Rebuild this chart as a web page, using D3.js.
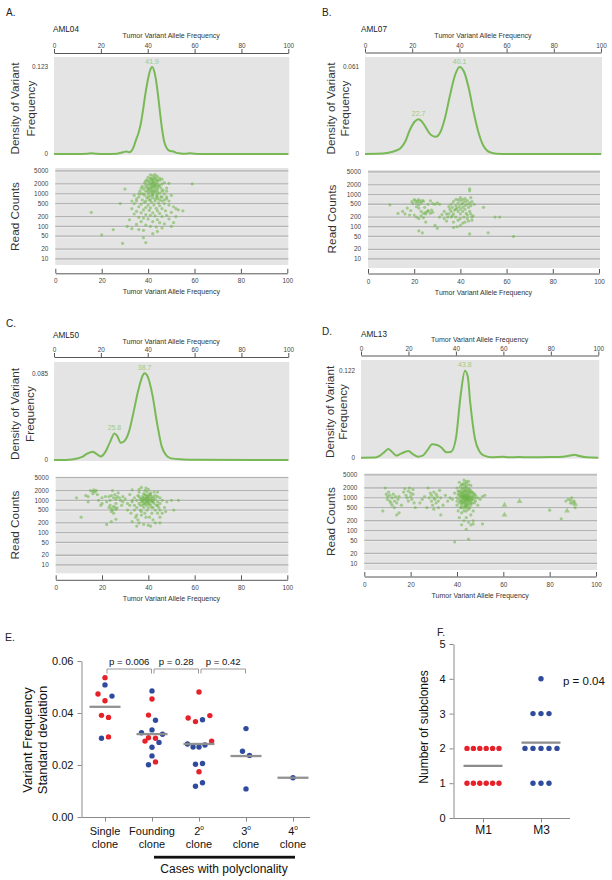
<!DOCTYPE html>
<html><head><meta charset="utf-8">
<script src="https://cdn.jsdelivr.net/npm/d3@7"></script>
<style>
body{margin:0;background:#fff}
svg{display:block}
text{font-family:"Liberation Sans",Arial,Helvetica,sans-serif}
</style>
</head><body>
<svg id="chart" width="612" height="880"></svg>
<script>
// ---------------- DATA ----------------
const vafTicks = [0, 20, 40, 60, 80, 100];
const readTicks = [10, 20, 50, 100, 200, 500, 1000, 2000, 5000];

// AML04
const aml04Density = [[0,0],[10,0],[14,0.0003],[16,0.001],[18,0.0003],[22,0],[27,0.0005],[29,0.002],[30,0.003],[31,0.0035],[32,0.0025],[33,0.004],[34,0.010],[35,0.020],[36,0.029],[37,0.042],[38,0.062],[39,0.085],[40,0.104],[41,0.118],[41.9,0.123],[43,0.114],[44,0.094],[45,0.066],[46,0.038],[47,0.018],[48,0.009],[49,0.005],[50,0.004],[51,0.0035],[52,0.002],[54,0.0008],[56,0.0004],[58,0.001],[60,0.0004],[63,0],[100,0]];
const aml04Peaks = [41.9];
const aml04Max = 0.123;
const aml04Reads = [[41,3800],[42,3600],[43,3900],[44,3400],[40,3200],[42.5,3000],[41.5,2900],[43.5,2800],[39.5,2700],[45,2600],[40.5,2500],[42,2400],[44,2300],[38.5,2200],[41,2100],[43,2000],[46,2000],[39,1900],[40,1800],[42,1800],[44.5,1700],[37.5,1700],[41.5,1600],[43,1500],[45.5,1500],[38,1400],[40,1400],[42,1300],[44,1300],[46.5,1300],[36.5,1200],[39,1200],[41,1100],[43,1100],[45,1050],[37,1000],[40,1000],[42,950],[44,950],[47,1000],[38.5,900],[41,850],[43.5,850],[45.5,800],[36,800],[39.5,750],[42,750],[44,700],[48,700],[37.5,650],[40.5,650],[43,600],[46,600],[35,600],[38.5,550],[41.5,550],[44.5,520],[47,500],[34,500],[37,480],[40,450],[42.5,450],[45,430],[49,450],[36,400],[39,380],[41,370],[43.5,360],[46,350],[33,350],[38,320],[40.5,310],[44,300],[47.5,300],[35,290],[37,260],[42,260],[45,250],[50,270],[34,240],[39,230],[41,220],[43,210],[46,200],[48,220],[36,190],[38,180],[40,170],[44,160],[49,170],[32,160],[37,140],[42,140],[45,130],[47,120],[35,115],[39,110],[41,100],[43.5,95],[46,90],[51,130],[50,100],[31,100],[33,85],[36,80],[38,75],[44,70],[42,60],[38,45],[39,32],[29,30],[25,80],[20,55],[15.5,270],[28,500],[30,1400],[59,2000],[53,320],[55,300],[52,200],[49,2100],[48,1500],[47,2200],[46,2800],[45,3000],[39,2500],[37,1500],[36,1000],[35,700],[34,900],[33,600],[48,800],[49,600],[51,400],[52,350],[50,900],[48,1200],[44,1900],[42,2200],[40,2300],[41,3000],[43,3300],[44,2600],[39,1600],[41,1500],[43,1700],[45,1800],[40,1200],[42,1600],[44,1100],[46,1200],[38,1000],[40,800],[42,900],[44,800],[46,800],[39,600],[41,650],[43,700],[45,650],[47,650],[41,1900],[42,2000],[43,1800],[41,1300],[42,1200],[43,1250],[40,1500],[44,1500],[42,1050],[41.5,2600],[42.5,2700],[43,2300]];

// AML07
const aml07Density = [[0,0],[5,0.0001],[10,0.0009],[13,0.0023],[15,0.004],[17,0.0086],[19,0.0168],[21,0.0226],[22.7,0.0244],[24,0.023],[26,0.018],[28,0.0133],[30,0.0121],[32,0.0156],[34,0.026],[36,0.041],[38,0.0545],[40.1,0.061],[42,0.0575],[44,0.0459],[46,0.0296],[48,0.0156],[50,0.0063],[52,0.002],[54,0.0007],[56,0.0002],[60,0],[100,0]];
const aml07Peaks = [22.7, 40.1];
const aml07Max = 0.061;
const aml07Reads = [[9.5,480],[13,260],[15,300],[16,250],[17,380],[18,230],[18.5,320],[19,600],[19.5,520],[20,700],[20.5,650],[21,560],[21.5,620],[22,700],[22,480],[22.5,600],[23,550],[23.5,650],[24,620],[21,420],[22,380],[23,300],[24,260],[25,280],[26,320],[20,230],[21,200],[22,180],[23,220],[24,190],[25,250],[26,300],[27,260],[27.5,330],[28,280],[24.5,400],[26,500],[28,520],[29,500],[30,550],[31,500],[27,640],[25,140],[22,75],[23.5,65],[29,110],[30,90],[31,200],[32,240],[33,300],[33,180],[34,150],[35,250],[35,420],[35.5,350],[36,300],[36,500],[36.5,400],[37,250],[37,600],[37.5,330],[38,450],[38,200],[38,700],[38.5,380],[39,300],[39,550],[39,160],[39.5,420],[40,350],[40,650],[40,250],[40.5,500],[41,400],[41,300],[41,700],[41.5,200],[42,450],[42,600],[42,350],[42.5,260],[43,500],[43,650],[43,180],[43.5,400],[44,550],[44,300],[44,1500],[44,1300],[44.5,800],[44.5,450],[45,200],[45,160],[45,600],[43.5,150],[42,140],[41,130],[40,110],[38.5,100],[37,95],[36,200],[34,250],[44,60],[46,500],[50,400],[52,65],[55,200],[57,200],[63,50],[37,140],[39,700],[40,800],[41,550],[42,750],[38,350],[36.5,220],[40,180],[43,230],[44.5,250],[45.5,220],[34.5,200]];

// AML50
const aml50Density = [[0,0],[5,0.0001],[10,0.0015],[12,0.003],[14,0.0059],[16.5,0.0082],[18,0.0062],[20,0.0035],[22,0.0082],[24,0.018],[25.8,0.026],[27,0.0235],[28.5,0.017],[30,0.0185],[32,0.0278],[34,0.0474],[36,0.0687],[38.7,0.085],[40,0.0817],[42,0.0638],[44,0.036],[46,0.0131],[48,0.0043],[50,0.0016],[55,0.0006],[60,0.0002],[100,0]];
const aml50Peaks = [25.8, 38.7];
const aml50Max = 0.085;
const aml50Reads = [[9,1200],[11,300],[13,1400],[14,1300],[15,2000],[16,1900],[16.5,2100],[17,1800],[17.5,2000],[18,1500],[16,1600],[18.5,1000],[14,900],[20,800],[19.5,700],[22,180],[23,600],[23.5,700],[24,550],[24.5,500],[25,650],[25.5,600],[26,520],[26.5,580],[24,450],[25,400],[23,1300],[24,1400],[25,1200],[25.5,1500],[26,1100],[26.5,1300],[27,1700],[27.5,1200],[28,1000],[23.5,1000],[24.5,2000],[26,800],[28.5,700],[29,900],[30,1100],[24,220],[26,260],[31,800],[31,500],[32,1500],[32.5,400],[33,900],[33,2100],[34,1200],[34,700],[34.5,300],[35,1000],[35,600],[35.5,1400],[35.5,250],[36,800],[36,1800],[36.5,500],[36.5,1100],[37,900],[37,2500],[37,350],[37.5,1300],[37.5,700],[38,1000],[38,600],[38,1600],[38.5,800],[38.5,400],[38.5,2000],[39,1100],[39,700],[39,1400],[39.5,900],[39.5,500],[39.5,1800],[40,1000],[40,1200],[40,600],[40,2200],[40.5,800],[40.5,300],[41,1100],[41,1500],[41,700],[41.5,900],[41.5,400],[42,1000],[42,1300],[42,600],[42.5,800],[42.5,1800],[43,1100],[43,500],[43.5,700],[44,900],[44,1300],[44,400],[44.5,600],[45,800],[45,200],[46,1000],[47,600],[47.5,450],[48,900],[50,1000],[53,1000],[51,500],[36,200],[38,180],[33,220],[40,170],[42,250],[39,300],[37,450],[35,350],[34,500],[33,1000],[32,700],[36,1300],[38,1200],[40,1400],[42,1150],[43,1400],[41,1700],[39,2400],[36,2200],[44,1800],[45,1200],[44,700],[45,500],[46,400],[29,1300],[21.5,1300],[22,900],[20,1200],[43,200],[45,300],[41,160],[35,160],[38,1100],[39,1000],[40,900],[41,1000],[39,1200],[38,800],[40,1100],[41,1300],[37,1100],[42,900],[39.5,1300],[38.5,1500],[40.5,1500],[36.5,700],[41.5,600],[37.5,950],[40,750],[39,850]];

// AML13
const aml13Density = [[0,0],[6,0.0002],[8,0.0028],[10,0.0084],[11.5,0.0122],[13,0.0084],[15,0.0028],[17,0.006],[20,0.0093],[22,0.0047],[24,0.0014],[26,0.0028],[28,0.0107],[30,0.0187],[32,0.0178],[34,0.014],[36,0.0075],[38,0.0084],[40,0.027],[42,0.0879],[43.8,0.122],[45,0.1136],[46,0.0785],[48,0.027],[50,0.0084],[52,0.0028],[55,0.0005],[60,0.0014],[62,0.0007],[67,0.0009],[70,0.0005],[80,0.0009],[85,0.0014],[88,0.003],[90,0.0042],[92,0.0023],[95,0.0005],[100,0]];
const aml13Peaks = [43.8];
const aml13Max = 0.122;
const aml13Reads = [[8,400],[9,2000],[9.5,1300],[10,1100],[10,900],[10.5,1500],[11,800],[11,1200],[11.5,700],[12,1000],[12,600],[12.5,1300],[13,800],[13,500],[13.5,1100],[14,700],[14,300],[14.5,900],[15,350],[15,1100],[16,600],[17,1500],[17.5,1900],[18,1200],[18.5,1000],[19,1600],[19,800],[19.5,2000],[20,1100],[20,1400],[20.5,900],[21,1800],[21,1300],[22,500],[21.5,700],[24,700],[25,900],[26,1100],[27,500],[27.5,2000],[28,1000],[28.5,1400],[29,800],[29,1200],[29.5,600],[30,1000],[30,1500],[30,450],[30.5,900],[31,1300],[31,700],[31.5,1100],[32,800],[32,500],[32.5,1700],[33,1000],[33,300],[34,600],[35,1200],[36,800],[37,1000],[38,900],[39,1400],[39,45],[40,600],[40,1000],[40,2000],[40.5,400],[40.5,1300],[41,700],[41,900],[41,1600],[41,3000],[41.5,500],[41.5,1100],[41.5,2200],[42,600],[42,800],[42,1000],[42,1300],[42,1800],[42,350],[42.5,700],[42.5,900],[42.5,1200],[42.5,2500],[43,500],[43,800],[43,1000],[43,1100],[43,1500],[43,2000],[43,3500],[43.5,600],[43.5,750],[43.5,900],[43.5,1300],[43.5,1700],[44,400],[44,700],[44,850],[44,1000],[44,1200],[44,1400],[44,2200],[44,2800],[44.5,550],[44.5,800],[44.5,950],[44.5,1100],[44.5,1600],[45,650],[45,900],[45,1000],[45,1300],[45,1900],[45,3200],[45.5,500],[45.5,750],[45.5,1100],[45.5,1500],[46,600],[46,850],[46,1000],[46,1300],[46,2400],[46.5,700],[46.5,1100],[47,900],[47,1400],[47,400],[48,800],[48,1200],[49,600],[49,1000],[50,900],[51,1100],[52,1200],[44,250],[43,200],[45,180],[46,150],[44,110],[45,55],[47,160],[51,160],[42,150],[41,250],[46,300],[47,200],[80,420],[85,230],[87,800],[88,900],[89,700],[89.5,1000],[90.5,800],[91,500],[89,850],[42,1100],[42.5,1050],[43,950],[43.5,1000],[44,1050],[44.5,1000],[45,1100],[43,1200],[44,900],[42.5,1400],[43.5,1150],[44.5,1250],[45.5,900],[43,700],[44,600],[45,800],[42,700],[43,1600],[44,1700],[45,1500],[44,2000],[43.5,2400],[42.5,2000],[45.5,1800],[46,1600],[41.5,1400],[41,1200],[41.5,800],[46.5,900],[47,1100],[46,700],[43,400],[44,500],[45,450],[42,500],[43.5,550],[44.5,650],[42,1500],[46.5,1500],[45,2500],[44,3200],[43,2800],[42,2600],[40.5,1600],[40,800],[47.5,1300],[48,1000],[47.5,700]];
const aml13Triangles = [[60.5,600],[60.5,300],[67,780],[87.5,400],[90,700],[91,650]];

// Panel E: variant frequency standard deviation (c: r=red, b=blue; slot = side-by-side slot)
const eCategories = ["single", "founding", "second", "third", "fourth"];
const eSingle = [[0.0536,"r",0],[0.0508,"b",0],[0.0473,"r",-2],[0.0465,"b",2],[0.0447,"r",0],[0.0391,"r",-1],[0.0383,"r",1],[0.0303,"b",-1],[0.0308,"r",1]];
const eFounding = [[0.0485,"b",0],[0.0454,"r",0],[0.0392,"r",-1],[0.0372,"b",1],[0.0324,"b",-3],[0.0335,"b",0],[0.0318,"b",3],[0.0305,"r",-1],[0.0303,"r",1],[0.0292,"r",-2],[0.0287,"b",2],[0.0268,"b",0],[0.0235,"b",0],[0.0201,"b",-1],[0.0212,"r",1]];
const eSecond = [[0.0481,"r",0],[0.0381,"r",-3.1],[0.0367,"r",-1],[0.0374,"b",1],[0.0390,"r",3.1],[0.0292,"r",3.6],[0.0281,"b",-3.3],[0.0269,"b",-1.7],[0.0269,"b",0],[0.0277,"b",1.7],[0.0203,"b",-1],[0.0206,"b",1],[0.0174,"r",0],[0.0118,"b",-1],[0.0132,"b",1]];
const eThird = [[0.0340,"b",0],[0.0253,"b",-1],[0.0237,"b",1],[0.0108,"b",0]];
const eFourth = [[0.0151,"b",0]];
const eTicks = [0, 0.02, 0.04, 0.06];
const ePvalues = ["p = 0.006", "p = 0.28", "p = 0.42"];

// Panel F: number of subclones
const fGroups = ["M1", "M3"];
const fM1 = [2,2,2,2,2,2,1,1,1,1,1,1];
const fM3 = [4,3,3,3,2,2,2,2,2,1,1,1];
const fTicks = [0,1,2,3,4,5];
const fPvalue = "p = 0.04";

// ---------------- LAYOUT ----------------
const svg = d3.select("#chart");
const GREEN = "#78b956", GREEN_LABEL = "#9ccb84", BG = "#e4e4e4", GRID = "#b3b3b3";
const RED = "#e6212a", BLUE = "#2f4b9d", MEAN = "#8c8c8c";

const panels = [
  {letter:"A.", lx:6, ly:16, name:"AML04", nx:53, ny:32, vx0:54, vx1:288.3, topTitleY:37.5, topAxisY:53,
   dTop:57, dBot:154, dPeak:67, dTitleX:[15,31], sTop:168, sBot:265, y5000:171, y10:259,
   bx0:55.3, bx1:287.3, botAxisY:273.3, rTitleX:15,
   density:aml04Density, peaks:aml04Peaks, max:aml04Max, reads:aml04Reads, tris:[]},
  {letter:"B.", lx:322, ly:16, name:"AML07", nx:361, ny:32, vx0:365, vx1:601, topTitleY:37.5, topAxisY:52.5,
   dTop:57, dBot:154, dPeak:67, dTitleX:[331,345], sTop:170, sBot:268, y5000:172, y10:259,
   bx0:368, bx1:599, botAxisY:273.5, rTitleX:332,
   density:aml07Density, peaks:aml07Peaks, max:aml07Max, reads:aml07Reads, tris:[]},
  {letter:"C.", lx:6, ly:326.5, name:"AML50", nx:53, ny:338, vx0:54, vx1:288.3, topTitleY:344, topAxisY:357,
   dTop:362, dBot:460, dPeak:373.3, dTitleX:[15,30], sTop:476.7, sBot:573.3, y5000:477.7, y10:565,
   bx0:55.7, bx1:287.3, botAxisY:579.8, rTitleX:15,
   density:aml50Density, peaks:aml50Peaks, max:aml50Max, reads:aml50Reads, tris:[]},
  {letter:"D.", lx:322, ly:334.5, name:"AML13", nx:361, ny:336.5, vx0:361, vx1:598.3, topTitleY:341.5, topAxisY:355.5,
   dTop:360, dBot:457.7, dPeak:370.7, dTitleX:[330,343], sTop:473.3, sBot:570, y5000:475, y10:563.3,
   bx0:364.3, bx1:596, botAxisY:576.5, rTitleX:331,
   density:aml13Density, peaks:aml13Peaks, max:aml13Max, reads:aml13Reads, tris:aml13Triangles}
];

const SMALL = 6.4;

panels.forEach((p, i) => {
  const g = svg.append("g");
  g.append("text").attr("x", p.lx).attr("y", p.ly).attr("font-size", 10).attr("fill","#222").text(p.letter);
  g.append("text").attr("x", p.nx).attr("y", p.ny).attr("font-size", 8.2).attr("fill","#222").text(p.name);

  // density
  const xTop = d3.scaleLinear().domain([0,100]).range([p.vx0, p.vx1]);
  const yD = d3.scaleLinear().domain([0, p.max]).range([p.dBot, p.dPeak]);
  g.append("rect").attr("x", p.vx0).attr("y", p.dTop).attr("width", p.vx1 - p.vx0 + 1).attr("height", p.dBot - p.dTop + 1).attr("fill", BG);
  const topAx = g.append("g").attr("transform", `translate(0,${p.topAxisY})`)
    .call(d3.axisTop(xTop).tickValues(vafTicks).tickSize(4).tickSizeOuter(0).tickPadding(0.6));
  topAx.select(".domain").attr("stroke","#555");
  topAx.selectAll(".tick line").attr("stroke","#555");
  topAx.selectAll("text").attr("font-size", SMALL).attr("fill","#444").attr("font-family",null);
  g.append("text").attr("x", (p.vx0+p.vx1)/2).attr("y", p.topTitleY).attr("text-anchor","middle")
    .attr("font-size", 7).attr("fill","#333").text("Tumor Variant Allele Frequency");
  [0, p.max].forEach(v => {
    g.append("text").attr("x", p.vx0 - 6).attr("y", yD(v) + 2.2).attr("text-anchor","end")
      .attr("font-size", SMALL).attr("fill","#444").text(v === 0 ? "0" : String(v));
  });
  const line = d3.line().x(d => xTop(d[0])).y(d => yD(d[1])).curve(d3.curveMonotoneX);
  g.append("path").datum(p.density).attr("d", line).attr("fill","none").attr("stroke", GREEN).attr("stroke-width", 2);
  p.peaks.forEach(pk => {
    const pt = p.density.find(d => d[0] === pk);
    g.append("text").attr("x", xTop(pk)).attr("y", yD(pt[1]) - 3.3).attr("text-anchor","middle")
      .attr("font-size", 7).attr("fill", GREEN_LABEL).text(pk.toFixed(1));
  });
  const dMid = (p.dTop + p.dBot)/2 + 3;
  ["Density of Variant", "Frequency"].forEach((t, k) => {
    g.append("text").attr("transform", `translate(${p.dTitleX[k]},${dMid}) rotate(-90)`)
      .attr("text-anchor","middle").attr("dominant-baseline","central")
      .attr("font-size", 11.8).attr("fill","#333").text(t);
  });

  // scatter
  const xB = d3.scaleLinear().domain([0,100]).range([p.bx0, p.bx1]);
  const yR = d3.scaleLog().domain([10,5000]).range([p.y10, p.y5000]);
  g.append("rect").attr("x", p.bx0).attr("y", p.sTop).attr("width", p.bx1 - p.bx0 + 1).attr("height", p.sBot - p.sTop).attr("fill", BG);
  readTicks.forEach(v => {
    g.append("line").attr("x1", p.bx0).attr("x2", p.bx1 + 1).attr("y1", yR(v)).attr("y2", yR(v))
      .attr("stroke", GRID).attr("stroke-width", 1.3);
    g.append("line").attr("x1", p.bx0).attr("x2", p.bx1 + 1).attr("y1", yR(v)+1.2).attr("y2", yR(v)+1.2)
      .attr("stroke", "#f2f2f2").attr("stroke-width", 0.6);
    g.append("text").attr("x", p.bx0 - 7).attr("y", yR(v) + 2.2).attr("text-anchor","end")
      .attr("font-size", SMALL).attr("fill","#444").text(v);
  });
  const clipId = "clip" + i;
  g.append("clipPath").attr("id", clipId).append("rect")
    .attr("x", p.bx0).attr("y", p.sTop).attr("width", p.bx1 - p.bx0 + 1).attr("height", p.sBot - p.sTop);
  const pts = g.append("g").attr("clip-path", `url(#${clipId})`);
  pts.selectAll("circle").data(p.reads).join("circle")
    .attr("cx", d => xB(d[0])).attr("cy", d => yR(d[1])).attr("r", 1.6)
    .attr("fill", "#6cb446").attr("fill-opacity", 0.55);
  pts.selectAll("path.tri").data(p.tris).join("path").attr("class","tri")
    .attr("transform", d => `translate(${xB(d[0])},${yR(d[1])})`)
    .attr("d", d3.symbol(d3.symbolTriangle, 14)).attr("fill", "#6cb446").attr("fill-opacity", 0.55);
  const botAx = g.append("g").attr("transform", `translate(0,${p.botAxisY})`)
    .call(d3.axisBottom(xB).tickValues(vafTicks).tickSize(-4.5).tickSizeOuter(0).tickPadding(5.6));
  botAx.select(".domain").attr("stroke","#555");
  botAx.selectAll(".tick line").attr("stroke","#555");
  botAx.selectAll("text").attr("font-size", SMALL).attr("fill","#444").attr("font-family",null);
  g.append("text").attr("x", (p.bx0+p.bx1)/2).attr("y", p.botAxisY + 21).attr("text-anchor","middle")
    .attr("font-size", 7).attr("fill","#333").text("Tumor Variant Allele Frequency");
  g.append("text").attr("transform", `translate(${p.rTitleX},${(p.sTop+p.sBot)/2}) rotate(-90)`)
    .attr("text-anchor","middle").attr("dominant-baseline","central")
    .attr("font-size", 11.8).attr("fill","#333").text("Read Counts");
});

// ---------------- PANEL E ----------------
(function(){
  const g = svg.append("g");
  g.append("text").attr("x", 5).attr("y", 641).attr("font-size", 10.5).attr("fill","#222").text("E.");
  const x = d3.scalePoint().domain(eCategories).range([105, 293]);
  const y = d3.scaleLinear().domain([0, 0.06]).range([817, 661]);
  const slotW = 3.5;
  const yAx = g.append("g").attr("transform","translate(81.5,0)")
    .call(d3.axisLeft(y).tickValues(eTicks).tickFormat(d3.format(".2f")).tickSize(4).tickSizeOuter(0).tickPadding(4));
  yAx.select(".domain").attr("stroke","#8a8a8a");
  yAx.selectAll(".tick line").attr("stroke","#8a8a8a");
  yAx.selectAll("text").attr("font-size", 11).attr("fill","#111").attr("font-family",null);
  const xAx = g.append("g").attr("transform","translate(0,817.5)")
    .call(d3.axisBottom(x).tickSize(4).tickSizeOuter(0).tickFormat(() => ""));
  xAx.select(".domain").remove();
  xAx.selectAll(".tick line").attr("stroke","#8a8a8a");
  g.append("line").attr("x1", 81.5).attr("x2", 310).attr("y1", 817.5).attr("y2", 817.5).attr("stroke","#8a8a8a");

  const groups = [eSingle, eFounding, eSecond, eThird, eFourth];
  groups.forEach((arr, k) => {
    const cx = x(eCategories[k]);
    g.append("g").selectAll("circle").data(arr).join("circle")
      .attr("cx", d => cx + d[2]*slotW).attr("cy", d => y(d[0])).attr("r", 2.7)
      .attr("fill", d => d[1] === "r" ? RED : BLUE);
    const m = d3.mean(arr, d => d[0]);
    g.append("line").attr("x1", cx - 15.5).attr("x2", cx + 15.5).attr("y1", y(m)).attr("y2", y(m))
      .attr("stroke", MEAN).attr("stroke-width", 2.3).attr("stroke-opacity", 0.95);
  });

  for (let k = 0; k < 3; k++) {
    const x1 = x(eCategories[k]) + 2, x2 = x(eCategories[k+1]) - 0.5;
    g.append("path").attr("d", `M${x1},673.5V669H${x2}V673.5`).attr("fill","none")
      .attr("stroke","#999").attr("stroke-width",1);
    g.append("text").attr("x", (x1+x2)/2).attr("y", 664.5).attr("text-anchor","middle")
      .attr("font-size", 9.6).attr("fill","#111").text(ePvalues[k]);
  }

  const line1 = ["Single", "Founding", "2", "3", "4"];
  eCategories.forEach((c, k) => {
    const t = g.append("text").attr("x", x(c)).attr("y", 835).attr("text-anchor","middle")
      .attr("font-size", 11).attr("fill","#111");
    t.append("tspan").text(line1[k]);
    if (k >= 2) t.append("tspan").attr("font-size", 6.5).attr("dy", -5).text("o");
    g.append("text").attr("x", x(c)).attr("y", 848).attr("text-anchor","middle")
      .attr("font-size", 11).attr("fill","#111").text("clone");
  });
  g.append("rect").attr("x", x("founding") + 2).attr("y", 855.8).attr("width", x("fourth") - x("founding")).attr("height", 2.8).attr("fill","#111");
  g.append("text").attr("x", 224).attr("y", 872.5).attr("text-anchor","middle")
    .attr("font-size", 12).attr("fill","#111").text("Cases with polyclonality");
  [["Variant Frequency", 27], ["Standard deviation", 42]].forEach(([t, xx]) => {
    g.append("text").attr("transform", `translate(${xx},740) rotate(-90)`)
      .attr("text-anchor","middle").attr("dominant-baseline","central")
      .attr("font-size", 13).attr("fill","#111").text(t);
  });
})();

// ---------------- PANEL F ----------------
(function(){
  const g = svg.append("g");
  g.append("text").attr("x", 437).attr("y", 636).attr("font-size", 10.5).attr("fill","#222").text("F.");
  const x = d3.scalePoint().domain(fGroups).range([483, 541]);
  const y = d3.scaleLinear().domain([0, 5]).range([818, 644]);
  const yAx = g.append("g").attr("transform","translate(453.5,0)")
    .call(d3.axisLeft(y).tickValues(fTicks).tickFormat(d3.format("d")).tickSize(4).tickSizeOuter(0).tickPadding(4));
  yAx.select(".domain").attr("stroke","#8a8a8a");
  yAx.selectAll(".tick line").attr("stroke","#8a8a8a");
  yAx.selectAll("text").attr("font-size", 11).attr("fill","#111").attr("font-family",null);
  const xAx = g.append("g").attr("transform","translate(0,818.5)")
    .call(d3.axisBottom(x).tickSize(4).tickSizeOuter(0).tickPadding(3));
  xAx.select(".domain").remove();
  xAx.selectAll(".tick line").attr("stroke","#8a8a8a");
  xAx.selectAll("text").attr("font-size", 12).attr("fill","#111").attr("font-family",null);
  g.append("line").attr("x1", 453.5).attr("x2", 570).attr("y1", 818.5).attr("y2", 818.5).attr("stroke","#8a8a8a");

  const sets = [[fM1, RED, 6.4], [fM3, BLUE, 8]];
  sets.forEach(([vals, col, sp], k) => {
    const cx = x(fGroups[k]);
    const byVal = d3.group(vals, v => v);
    const pts = [];
    byVal.forEach((arr, v) => arr.forEach((_, j) => pts.push([v, (j - (arr.length - 1)/2) * sp])));
    g.append("g").selectAll("circle").data(pts).join("circle")
      .attr("cx", d => cx + d[1]).attr("cy", d => y(d[0])).attr("r", 2.7).attr("fill", col);
    const m = d3.mean(vals);
    g.append("line").attr("x1", cx - 19.5).attr("x2", cx + 19.5).attr("y1", y(m)).attr("y2", y(m))
      .attr("stroke", MEAN).attr("stroke-width", 2.3);
  });
  g.append("text").attr("x", 563).attr("y", 685).attr("font-size", 11.5).attr("fill","#111").text(fPvalue);
  g.append("text").attr("transform", "translate(424,727) rotate(-90)")
    .attr("text-anchor","middle").attr("dominant-baseline","central")
    .attr("font-size", 12).attr("fill","#111").text("Number of subclones");
})();
</script>
</body></html>
